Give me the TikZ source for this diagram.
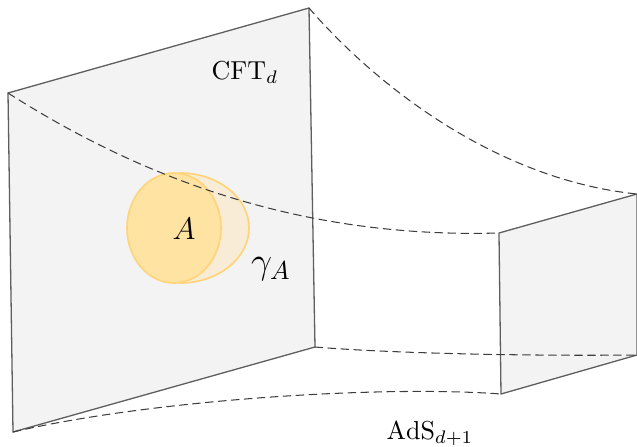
\documentclass[tikz,border=0pt]{standalone}
\usepackage{xcolor}
\definecolor{hopanel}{HTML}{F3F3F3}
\definecolor{hoedge}{HTML}{5E5E5E}
\definecolor{hodash}{HTML}{3C3C3C}
\definecolor{hodisc}{HTML}{FFE3A3}
\definecolor{hocap}{HTML}{F8ECD6}
\definecolor{horim}{HTML}{FFD47A}
\usepackage{tikz}
\usetikzlibrary{calc}
\tikzset{
  every picture/.style={line cap=round, line join=round},
  lbl/.style={font=\normalsize, text=black},
  biglbl/.style={font=\large, text=black},
  panel/.style={fill=hopanel, draw=hoedge, line width=0.5pt},
  bulk/.style={hodash, line width=0.4pt, dash pattern=on 3pt off 2pt},
  region/.style={fill=hodisc, draw=horim, line width=0.65pt},
  surface/.style={fill=hocap, draw=horim, line width=0.65pt},
}

\begin{document}
\begin{tikzpicture}[x=0.385pt, y=-0.385pt]
\useasboundingbox (0,0) rectangle (637,446);
% boundary slice and deep slice
\coordinate (bTL) at (8,93);
\coordinate (bTR) at (309,8);
\coordinate (bBR) at (315,347);
\coordinate (bBL) at (13,432);
\coordinate (iTL) at (499,233);
\coordinate (iTR) at (637,194);
\coordinate (iBR) at (637,355);
\coordinate (iBL) at (501,394);
\draw[panel] (bTL) -- (bTR) -- (bBR) -- (bBL) -- cycle;
\draw[panel] (iTL) -- (iTR) -- (iBR) -- (iBL) -- cycle;
% minimal surface hanging off the region
\draw[surface] (180,173) arc[start angle=-90, end angle=90, x radius=69, y radius=55] -- cycle;
\draw[region] (174,228) ellipse[x radius=47, y radius=55];
% the bulk
\draw[bulk] (bTL) .. controls (160,190) and (320,238) .. (iTL);
\draw[bulk] (bTR) .. controls (380,90) and (500,180) .. (iTR);
\draw[bulk] (bBR) .. controls (400,354) and (540,356) .. (iBR);
\draw[bulk] (bBL) .. controls (150,400) and (380,385) .. (iBL);
% labels
\node[lbl] (cft) at (245,73) {$\mathrm{CFT}_d$};
\node[lbl] (ads) at (430,434) {$\mathrm{AdS}_{d+1}$};
\node[biglbl] (regA) at (184,229) {$A$};
\node[biglbl, font=\Large] (gam) at (271,269) {$\gamma_A$};
\end{tikzpicture}
\end{document}
